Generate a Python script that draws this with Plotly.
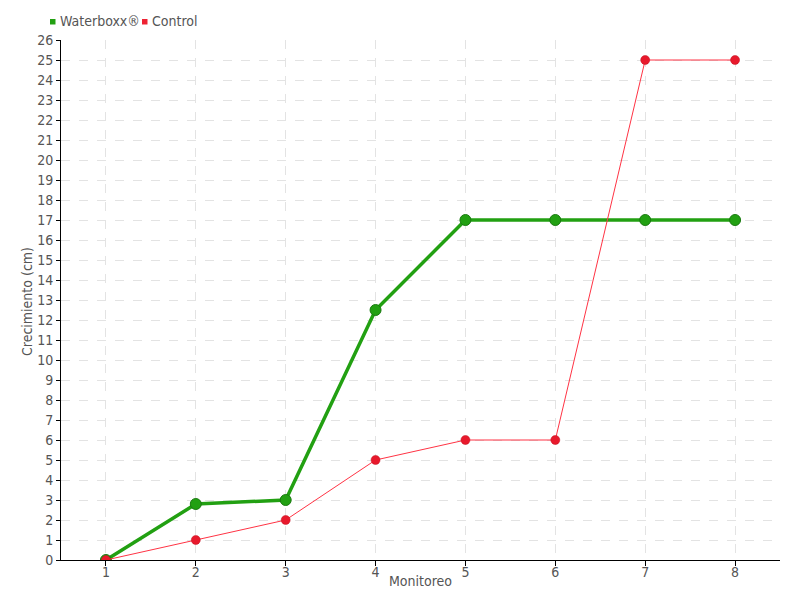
import plotly.graph_objects as go

monitoreo = [1, 2, 3, 4, 5, 6, 7, 8]
waterboxx = [0, 2.8, 3.0, 12.5, 17, 17, 17, 17]
control = [0, 1, 2, 5, 6, 6, 25, 25]
y_ticks = list(range(0, 27))
series_names = ["Waterboxx®", "Control"]
x_title = "Monitoreo"
y_title = "Crecimiento (cm)"

FONT = "DejaVu Sans Condensed, Liberation Sans Narrow, sans-serif"
GREEN = "#22a012"
RED = "#ee2233"
TXT = "#555555"

W, H = 800, 600
ML, MR, MT, MB = 61, 20, 40, 40

fig = go.Figure()
fig.add_trace(go.Scatter(
    x=monitoreo, y=waterboxx, name=series_names[0], mode="lines+markers",
    line=dict(color=GREEN, width=3.5), showlegend=False,
    marker=dict(size=11, color=GREEN, line=dict(color="#1a7a10", width=1)),
))
fig.add_trace(go.Scatter(
    x=monitoreo, y=control, name=series_names[1], mode="lines+markers",
    line=dict(color="#ff3344", width=1), showlegend=False,
    marker=dict(size=9, color="#e8192c", line=dict(color="#c01020", width=0.5)),
))

def px(xp):
    return (xp - ML) / (W - ML - MR)

def py(yp):
    return 1 - (yp - MT) / (H - MT - MB)

# manual legend
legend_items = [(series_names[0], GREEN, 50, 58), (series_names[1], RED, 142, 150)]
for name, col, sx, tx in legend_items:
    fig.add_shape(type="rect", xref="paper", yref="paper",
                  x0=px(sx), x1=px(sx + 5.5), y0=py(24.5), y1=py(19),
                  fillcolor=col, line=dict(width=0))
    fig.add_annotation(xref="paper", yref="paper", x=px(tx), y=py(21.5),
                       xanchor="left", yanchor="middle", showarrow=False,
                       text=name, font=dict(size=14, color=TXT, family=FONT))

# axis titles
fig.add_annotation(xref="paper", yref="paper", x=px(420), y=py(581),
                   xanchor="center", yanchor="middle", showarrow=False,
                   text=x_title, font=dict(size=14, color=TXT, family=FONT))
fig.add_annotation(xref="paper", yref="paper", x=px(27), y=py(302),
                   xanchor="center", yanchor="middle", showarrow=False, textangle=-90,
                   text=y_title, font=dict(size=14, color=TXT, family=FONT))

fig.update_layout(
    width=W, height=H,
    margin=dict(l=ML, r=MR, t=MT, b=MB, autoexpand=False),
    paper_bgcolor="white", plot_bgcolor="white",
    font=dict(family=FONT, size=14, color=TXT),
    showlegend=False,
    xaxis=dict(
        range=[0.5, 8.5], tickmode="array", tickvals=monitoreo,
        ticktext=[str(v) for v in monitoreo],
        showgrid=True, gridcolor="#e3e3e3", griddash="dash",
        showline=True, linecolor="black", linewidth=1,
        ticks="outside", tickcolor="black", ticklen=5,
        ticklabelstandoff=-6,
        zeroline=False,
    ),
    yaxis=dict(
        range=[0, 26], tickmode="array", tickvals=y_ticks,
        showgrid=True, gridcolor="#e3e3e3", griddash="dash",
        showline=True, linecolor="black", linewidth=1,
        ticks="outside", tickcolor="black", ticklen=4,
        zeroline=False,
    ),
)

fig.write_html("out.html", config={"displayModeBar": False},
               post_script="document.body.style.margin='0';document.body.style.overflow='hidden';")
